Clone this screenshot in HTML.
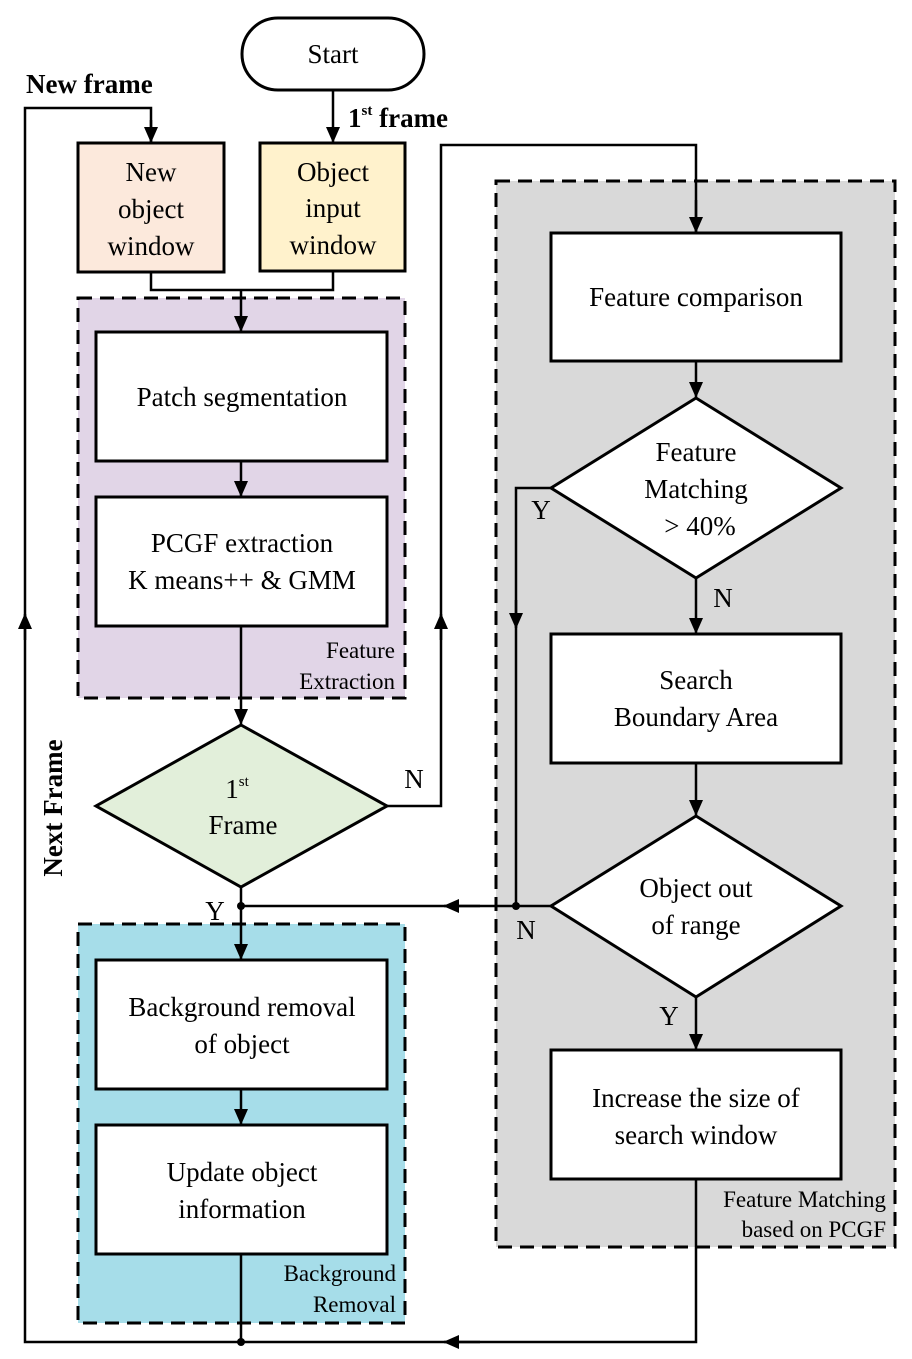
<!DOCTYPE html>
<html><head><meta charset="utf-8"><style>
html,body{margin:0;padding:0;background:#fff;}
svg{display:block;}
svg text{font-family:"Liberation Serif","Times New Roman","DejaVu Serif",serif;fill:#000;}
</style></head><body>
<svg width="912" height="1359" viewBox="0 0 912 1359" xmlns="http://www.w3.org/2000/svg" font-family="Liberation Serif, Times New Roman, DejaVu Serif, serif">
<defs>
<marker id="a" markerWidth="16" markerHeight="14" refX="15" refY="7" orient="auto" markerUnits="userSpaceOnUse" viewBox="0 0 16 14">
<path d="M0,0 L16,7 L0,14 z" fill="#000"/></marker>
</defs>
<g stroke="#000" stroke-width="3">
<rect x="78" y="298" width="327" height="400" fill="#e1d5e7" stroke-dasharray="14,8"/>
<rect x="78" y="924" width="327" height="399" fill="#a6dde9" stroke-dasharray="14,8"/>
<rect x="496" y="181" width="399" height="1066" fill="#d9d9d9" stroke-dasharray="14,8"/>
<rect x="242" y="18" width="182" height="72" rx="36" fill="#fff"/>
<rect x="78" y="143" width="146" height="129" fill="#fce9dc"/>
<rect x="260" y="143" width="145" height="128" fill="#fff2cc"/>
<rect x="96" y="332" width="291" height="129" fill="#fff"/>
<rect x="96" y="497" width="291" height="129" fill="#fff"/>
<polygon points="241,725 387,806 241,887 96,806" fill="#e2efda"/>
<rect x="96" y="960" width="291" height="129" fill="#fff"/>
<rect x="96" y="1125" width="291" height="129" fill="#fff"/>
<rect x="551" y="233" width="290" height="128" fill="#fff"/>
<polygon points="696,398 841,488 696,578 551,488" fill="#fff"/>
<rect x="551" y="634" width="290" height="129" fill="#fff"/>
<polygon points="696,816 841,906 696,997 551,906" fill="#fff"/>
<rect x="551" y="1050" width="290" height="129" fill="#fff"/>
</g>
<g stroke="#000" stroke-width="2.5" fill="none">
<line x1="333" y1="90" x2="333" y2="142" marker-end="url(#a)"/>
<polyline points="25,1340 25,108 151,108 151,142" />
<line x1="151" y1="120" x2="151" y2="142" marker-end="url(#a)"/>
<line x1="25" y1="640" x2="25" y2="614" marker-end="url(#a)"/>
<polyline points="151,272 151,290 333,290 333,271"/>
<line x1="241" y1="290" x2="241" y2="331" marker-end="url(#a)"/>
<line x1="241" y1="461" x2="241" y2="496" marker-end="url(#a)"/>
<line x1="241" y1="626" x2="241" y2="724" marker-end="url(#a)"/>
<polyline points="387,806 441,806 441,145 696,145 696,232"/>
<line x1="696" y1="200" x2="696" y2="232" marker-end="url(#a)"/>
<line x1="441" y1="640" x2="441" y2="614" marker-end="url(#a)"/>
<line x1="696" y1="361" x2="696" y2="397" marker-end="url(#a)"/>
<line x1="696" y1="578" x2="696" y2="633" marker-end="url(#a)"/>
<line x1="696" y1="763" x2="696" y2="815" marker-end="url(#a)"/>
<line x1="696" y1="997" x2="696" y2="1049" marker-end="url(#a)"/>
<polyline points="551,488 516,488 516,906"/>
<line x1="516" y1="600" x2="516" y2="628" marker-end="url(#a)"/>
<line x1="551" y1="906" x2="241" y2="906"/>
<line x1="480" y1="906" x2="444" y2="906" marker-end="url(#a)"/>
<line x1="241" y1="887" x2="241" y2="959" marker-end="url(#a)"/>
<line x1="241" y1="1089" x2="241" y2="1124" marker-end="url(#a)"/>
<line x1="241" y1="1254" x2="241" y2="1342"/>
<polyline points="696,1179 696,1342 25,1342 25,1340"/>
<line x1="480" y1="1342" x2="444" y2="1342" marker-end="url(#a)"/>
</g>
<circle cx="241" cy="906" r="4"/><circle cx="516" cy="906" r="4"/><circle cx="241" cy="1342" r="4"/>
<g font-size="27" text-anchor="middle">
<text x="333" y="63">Start</text>
<text x="151" y="181">New</text><text x="151" y="218">object</text><text x="151" y="255">window</text>
<text x="333" y="181">Object</text><text x="333" y="217">input</text><text x="333" y="254">window</text>
<text x="242" y="406">Patch segmentation</text>
<text x="242" y="552">PCGF extraction</text><text x="242" y="589">K means++ &amp; GMM</text>
<text x="237" y="798">1<tspan font-size="15" dy="-12">st</tspan></text>
<text x="243" y="834">Frame</text>
<text x="242" y="1016">Background removal</text><text x="242" y="1053">of object</text>
<text x="242" y="1181">Update object</text><text x="242" y="1218">information</text>
<text x="696" y="306">Feature comparison</text>
<text x="696" y="461">Feature</text><text x="696" y="498">Matching</text><text x="700" y="535">&gt; 40%</text>
<text x="696" y="689">Search</text><text x="696" y="726">Boundary Area</text>
<text x="696" y="897">Object out</text><text x="696" y="934">of range</text>
<text x="696" y="1107">Increase the size of</text><text x="696" y="1144">search window</text>
<text x="414" y="788">N</text><text x="215" y="920">Y</text>
<text x="541" y="519">Y</text><text x="723" y="607">N</text>
<text x="526" y="939">N</text><text x="669" y="1025">Y</text>
</g>
<g font-size="23" text-anchor="end">
<text x="395" y="658">Feature</text><text x="395" y="689">Extraction</text>
<text x="396" y="1281">Background</text><text x="396" y="1312">Removal</text>
<text x="886" y="1207">Feature Matching</text><text x="886" y="1237">based on PCGF</text>
</g>
<g font-size="27" font-weight="bold">
<text x="26" y="93">New frame</text>
<text x="348" y="127">1<tspan font-size="15" dy="-12">st</tspan><tspan dy="12"> frame</tspan></text>
<text transform="translate(62,808) rotate(-90)" text-anchor="middle">Next Frame</text>
</g>
</svg>
</body></html>
